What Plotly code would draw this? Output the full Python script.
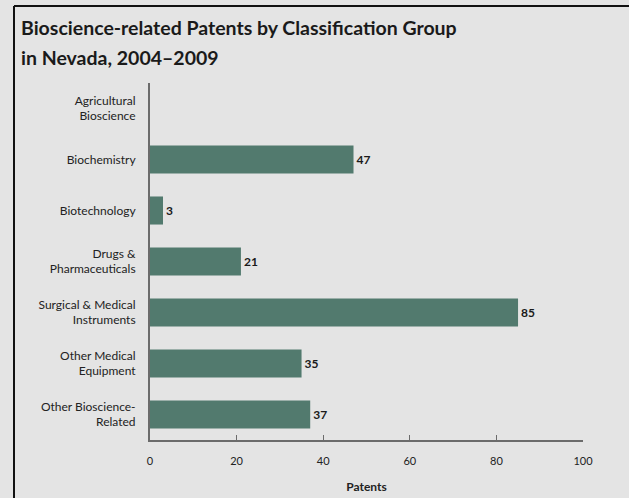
import plotly.graph_objects as go

categories = ["Agricultural<br>Bioscience", "Biochemistry", "Biotechnology",
              "Drugs &<br>Pharmaceuticals", "Surgical & Medical<br>Instruments",
              "Other Medical<br>Equipment", "Other Bioscience-<br>Related"]
patents = [0, 47, 3, 21, 85, 35, 37]
x_ticks = [0, 20, 40, 60, 80, 100]
title_lines = ["Bioscience-related Patents by Classification Group", "in Nevada, 2004–2009"]

labels = ["" if v == 0 else str(v) for v in patents]

W, H = 629, 498
L, R, T, B = 150, 46, 83, 58
pw, ph = W - L - R, H - T - B


def px_x(x):
    return (x - L) / pw


def px_y(y):
    return 1 - (y - T) / ph


fig = go.Figure(go.Bar(
    x=patents, y=categories, orientation="h",
    marker=dict(color="#527a6e", line=dict(width=0)),
    text=labels, textposition="outside", cliponaxis=False,
    textfont=dict(family="Lato", size=12, color="#1a1a1a", weight="bold"),
))

fig.update_layout(
    width=W, height=H,
    margin=dict(l=L, r=R, t=T, b=B, autoexpand=False),
    paper_bgcolor="#e4e4e4", plot_bgcolor="#e4e4e4",
    bargap=0.45,
    showlegend=False,
    font=dict(family="Lato", color="#222"),
    xaxis=dict(range=[0, 100], tickvals=x_ticks, showgrid=False, zeroline=False,
               showline=True, linecolor="#6b6b6b", linewidth=2,
               ticks="inside", ticklen=5, tickcolor="#6b6b6b", tickwidth=1,
               tickfont=dict(size=11, color="#222"), ticklabelstandoff=10,
               title=dict(text="Patents", font=dict(size=12, color="#222", weight="bold"), standoff=16)),
    yaxis=dict(categoryorder="array", categoryarray=categories, autorange="reversed",
               showgrid=False, zeroline=False, showline=True, linecolor="#6b6b6b", linewidth=2,
               ticks="", tickfont=dict(size=12, color="#222"), ticklabelstandoff=10),
)

for i, line in enumerate(title_lines):
    fig.add_annotation(text=line, xref="paper", yref="paper", x=px_x(19), y=px_y(27 + 30 * i),
                       xanchor="left", yanchor="middle", showarrow=False,
                       font=dict(family="Lato", size=19.5, color="#1a1a1a", weight="bold"))

# outer frame (top and left black border)
fig.add_shape(type="line", xref="paper", yref="paper",
              x0=px_x(14), x1=px_x(W), y0=px_y(6), y1=px_y(6),
              line=dict(color="#111", width=2))
fig.add_shape(type="line", xref="paper", yref="paper",
              x0=px_x(14), x1=px_x(14), y0=px_y(6), y1=px_y(H),
              line=dict(color="#111", width=2))

fig.write_html("out.html", config={"displayModeBar": False},
               post_script="document.body.style.margin='0';")
